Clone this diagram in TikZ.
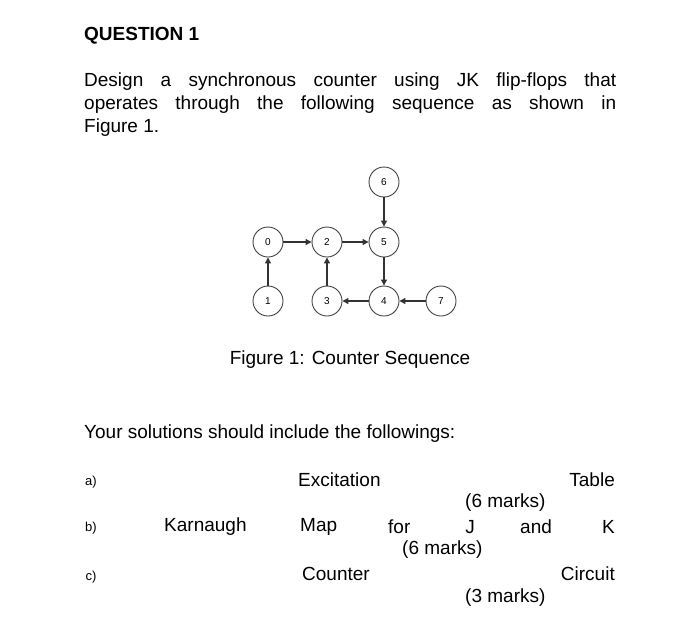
\documentclass[tikz,border=0pt]{standalone}
\usepackage{fontspec}
\setmainfont{Liberation Sans}
\usetikzlibrary{arrows.meta}
\begin{document}
\begin{tikzpicture}[x=1pt,y=-1pt,
  st/.style={circle,draw=black!75,line width=0.9pt,minimum size=30pt,inner sep=0pt,font=\fontsize{10}{12}\selectfont},
  ar/.style={-{Triangle[length=6pt,width=6pt]},line width=1.2pt,black!80},
  tx/.style={inner sep=0pt,font=\fontsize{19}{22}\selectfont},
  sm/.style={inner sep=0pt,font=\fontsize{13}{15}\selectfont}]
\useasboundingbox (0,0) rectangle (700,638);
\node[tx,anchor=west,font=\bfseries\fontsize{19}{22}\selectfont] (q) at (84,36) {QUESTION 1};
\node[tx,anchor=west] (l1) at (84,82) {\makebox[532pt][s]{Design a synchronous counter using JK flip-flops that}};
\node[tx,anchor=west] (l2) at (84,105) {\makebox[532pt][s]{operates through the following sequence as shown in}};
\node[tx,anchor=west] (l3) at (84,128) {Figure 1.};
\node[st] (n0) at (268,242) {0};
\node[st] (n2) at (327,242) {2};
\node[st] (n5) at (384,242) {5};
\node[st] (n6) at (384,182) {6};
\node[st] (n1) at (268,301) {1};
\node[st] (n3) at (327,301) {3};
\node[st] (n4) at (384,301) {4};
\node[st] (n7) at (441,301) {7};
\draw[ar] (n0) -- (n2);
\draw[ar] (n2) -- (n5);
\draw[ar] (n6) -- (n5);
\draw[ar] (n5) -- (n4);
\draw[ar] (n7) -- (n4);
\draw[ar] (n4) -- (n3);
\draw[ar] (n3) -- (n2);
\draw[ar] (n1) -- (n0);
\node[tx] (cap) at (350,360) {Figure 1: Counter Sequence};
\node[tx,anchor=west] (ys) at (84,434) {Your solutions should include the followings:};
\node[sm] (a) at (91,482) {a)};
\node[tx,anchor=west] (a1) at (298,480) {Excitation};
\node[tx,anchor=east] (a2) at (615,480) {Table};
\node[tx,anchor=west] (a3) at (465,503) {(6 marks)};
\node[sm] (b) at (91,528) {b)};
\node[tx,anchor=west] (b1) at (164,527) {Karnaugh};
\node[tx,anchor=west] (b2) at (300,527) {Map};
\node[tx,anchor=west] (b3) at (388,527) {for};
\node[tx] (b4) at (470,527) {J};
\node[tx,anchor=west] (b5) at (520,527) {and};
\node[tx,anchor=east] (b6) at (615,527) {K};
\node[tx,anchor=west] (b7) at (402,550) {(6 marks)};
\node[sm] (c) at (91,577) {c)};
\node[tx,anchor=west] (c1) at (302,574) {Counter};
\node[tx,anchor=east] (c2) at (615,574) {Circuit};
\node[tx,anchor=west] (c3) at (465,598) {(3 marks)};
\end{tikzpicture}
\end{document}
